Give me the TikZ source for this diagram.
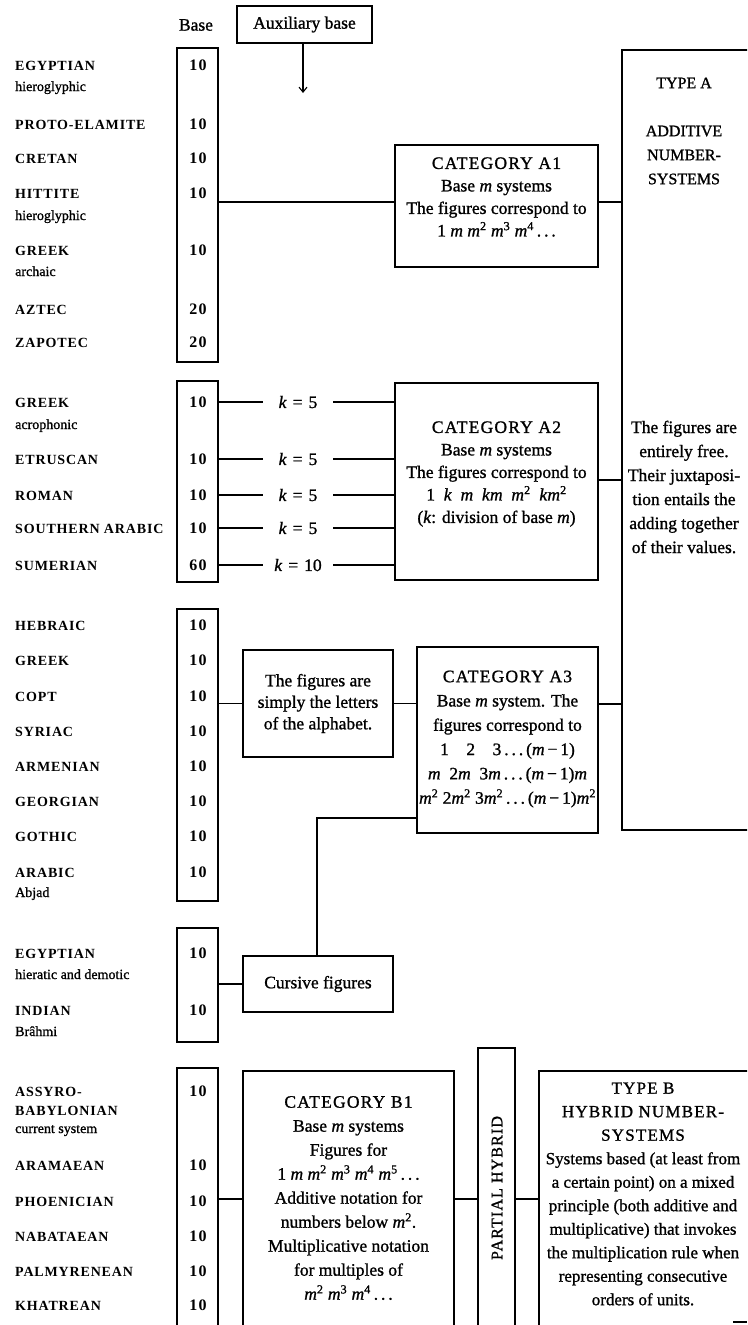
\documentclass[tikz,border=0pt]{standalone}
\usepackage{fontspec}
\setmainfont[FakeBold=1.1]{Liberation Serif}
\newfontfamily\namefont[LetterSpace=6]{Liberation Serif}
\newfontfamily\capfont[LetterSpace=7,FakeBold=1.1]{Liberation Serif}
\newfontfamily\numfont[LetterSpace=8]{Liberation Serif}
\usetikzlibrary{arrows.meta}
\newcommand\mm{\textit{m}}
\newcommand\kk{\textit{k}}
\newcommand\sq[1]{\textsuperscript{#1}}
\begin{document}
\begin{tikzpicture}[x=1pt,y=-1pt,
  conn/.style={line width=1.1pt},
  frame/.style={draw, line width=1.1pt, inner sep=0pt},
  bx/.style={draw, line width=1.1pt, align=center, inner sep=0pt, font=\fontsize{17.5}{22}\selectfont},
  bbox/.style={draw, line width=1.1pt, inner sep=0pt, minimum width=41pt},
  nm/.style={anchor=base west, inner sep=0pt, font=\namefont\bfseries\fontsize{14}{16}\selectfont},
  sub/.style={anchor=base west, inner sep=0pt, font=\fontsize{14}{16}\selectfont},
  num/.style={anchor=base, inner sep=0pt, font=\numfont\bfseries\fontsize{16}{16}\selectfont},
  txt/.style={align=center, inner sep=0pt, font=\fontsize{17.5}{22.5}\selectfont},
  klab/.style={inner sep=0pt, minimum width=70pt, minimum height=14pt, font=\fontsize{17.5}{20}\selectfont},
]
\useasboundingbox (0,0) rectangle (747,1325);
\clip (0,0) rectangle (747,1325);

% header
\node[inner sep=0pt, font=\fontsize{17.5}{20}\selectfont] (basehd) at (196,25) {Base};
\node[bx, minimum width=135pt, minimum height=37pt] (aux) at (304.5,24.5) {Auxiliary base};
\coordinate (tip) at (303,93);
\draw[conn,-{Straight Barb[length=5pt,width=8pt]}] (aux.south -| tip) -- (tip);

% base boxes
\node[bbox, minimum height=314pt] (g1) at (197.5,205) {};
\node[bbox, minimum height=201pt] (g2) at (197.5,481.5) {};
\node[bbox, minimum height=292pt] (g3) at (197.5,755) {};
\node[bbox, minimum height=114pt] (g4) at (197.5,985) {};
\node[bbox, minimum height=300pt] (g5) at (197.5,1218) {};

% names
\foreach \y/\t in {65/EGYPTIAN,124/PROTO-ELAMITE,158/CRETAN,193/HITTITE,250/GREEK,309/AZTEC,342/ZAPOTEC,
  402/GREEK,459/ETRUSCAN,495/ROMAN,528/SOUTHERN ARABIC,565/SUMERIAN,
  625/HEBRAIC,660/GREEK,696/COPT,731/SYRIAC,766/ARMENIAN,801/GEORGIAN,836/GOTHIC,872/ARABIC,
  953/EGYPTIAN,1010/INDIAN,
  1091/ASSYRO-,1110/BABYLONIAN,1165/ARAMAEAN,1201/PHOENICIAN,1236/NABATAEAN,1271/PALMYRENEAN,1305/KHATREAN}
  \node[nm] (n\y) at (15,\y+5) {\t};
\foreach \y/\t in {87/hieroglyphic,216/hieroglyphic,272/archaic,425/acrophonic,893/Abjad,975/hieratic and demotic,1032/Brâhmi,1129/current system}
  \node[sub] (s\y) at (15,\y+4) {\t};
\foreach \y/\v in {65/10,124/10,158/10,193/10,250/10,309/20,342/20,
  402/10,459/10,495/10,528/10,565/60,
  625/10,660/10,696/10,731/10,766/10,801/10,836/10,872/10,
  953/10,1010/10,
  1091/10,1165/10,1201/10,1236/10,1271/10,1305/10}
  \node[num] (v\y) at (198,\y+5.5) {\v};

% category boxes
\node[frame, minimum width=203pt, minimum height=122pt] (A1) at (496.5,206) {};
\node[txt] (A1t) at (496.5,197)
  {{\capfont CATEGORY A1}\\Base \mm{} systems\\The figures correspond to\\1 \mm{} \mm\sq2 \mm\sq3 \mm\sq4\,.\,.\,.};
\node[frame, minimum width=203pt, minimum height=197pt] (A2) at (496.5,481.5) {};
\node[txt] (A2t) at (496.5,474)
  {{\capfont CATEGORY A2}\\Base \mm{} systems\\The figures correspond to\\1\ \ \kk\ \ \mm\ \ \kk\mm\ \ \mm\sq2\ \ \kk\mm\sq2\\(\kk: division of base \mm)};
\node[frame, minimum width=181pt, minimum height=186pt] (A3) at (507.5,740) {};
\node[txt, font=\fontsize{17.5}{24.3}\selectfont] (A3t) at (507.5,739)
  {{\capfont CATEGORY A3}\\Base \mm{} system. The\\figures correspond to\\1\quad 2\quad 3\,.\,.\,.\,(\mm\,−\,1)\\\mm\ \ 2\mm\ \ 3\mm\,.\,.\,.\,(\mm\,−\,1)\mm\\\mm\sq2 2\mm\sq2 3\mm\sq2\,.\,.\,.\,(\mm\,−\,1)\mm\sq2};
\node[bx, minimum width=150pt, minimum height=107pt, font=\fontsize{17.5}{21.5}\selectfont] (L) at (318,703.5)
  {The figures are\\simply the letters\\of the alphabet.};
\node[bx, minimum width=150pt, minimum height=56pt] (C) at (318,984) {Cursive figures};

% type A
\node[frame, minimum width=140pt, minimum height=780pt] (TA) at (692,440) {};
\node[txt, font=\fontsize{16}{24}\selectfont] (TAhd) at (684,131) {TYPE A\\[24pt]ADDITIVE\\NUMBER-\\SYSTEMS};
\node[txt, font=\fontsize{17.5}{24}\selectfont] (TAbody) at (684,487)
  {The figures are\\entirely free.\\Their juxtaposi-\\tion entails the\\adding together\\of their values.};

% bottom part
\node[frame, minimum width=211pt, minimum height=290pt] (B1) at (348.5,1216) {};
\node[txt, font=\fontsize{17.5}{24}\selectfont] (B1t) at (348.5,1198)
  {{\capfont CATEGORY B1}\\Base \mm{} systems\\Figures for\\1 \mm{} \mm\sq2 \mm\sq3 \mm\sq4 \mm\sq5\,.\,.\,.\\Additive notation for\\numbers below \mm\sq2.\\Multiplicative notation\\for multiples of\\\mm\sq2 \mm\sq3 \mm\sq4\,.\,.\,.};
\node[frame, minimum width=37pt, minimum height=310pt] (PH) at (496.5,1203) {};
\node[rotate=90, inner sep=0pt, font=\capfont\fontsize{16}{18}\selectfont] (PHt) at (497,1188) {PARTIAL HYBRID};
\node[frame, minimum width=222pt, minimum height=290pt] (TB) at (650,1216) {};
\node[txt, font=\fontsize{17}{23.5}\selectfont] (TBt) at (643,1194)
  {{\capfont TYPE B}\\{\capfont HYBRID NUMBER-}\\{\capfont SYSTEMS}\\Systems based (at least from\\a certain point) on a mixed\\principle (both additive and\\multiplicative) that invokes\\the multiplication rule when\\representing consecutive\\orders of units.};
\coordinate (d1) at (733,1322);
\coordinate (d2) at (747,1322);
\draw[conn] (d1) -- (d2);

% connectors
\coordinate (r1) at (0,202);
\coordinate (r2) at (0,480);
\coordinate (r3) at (0,704);
\coordinate (r4) at (0,1199);
\coordinate (bend) at (317,818);
\draw[conn] (g1.east |- r1) -- (A1.west |- r1);
\draw[conn] (A1.east |- r1) -- (TA.west |- r1);
\foreach \y/\v in {402/5,459/5,495/5,528/5,565/10} {
  \node[klab] (k\y) at (298,\y) {\kk\hspace{6pt}=\hspace{6pt}\v};
  \draw[conn] (g2.east |- k\y) -- (k\y.west);
  \draw[conn] (k\y.east) -- (A2.west |- k\y);
}
\draw[conn] (A2.east |- r2) -- (TA.west |- r2);
\draw[conn] (g3.east |- L.west) -- (L.west);
\draw[conn] (L.east) -- (A3.west |- L.east);
\draw[conn] (A3.east |- r3) -- (TA.west |- r3);
\draw[conn] (A3.west |- bend) -- (bend) -- (C.north -| bend);
\draw[conn] (g4.east |- C.west) -- (C.west);
\draw[conn] (g5.east |- r4) -- (B1.west |- r4);
\draw[conn] (B1.east |- r4) -- (PH.west |- r4);
\draw[conn] (PH.east |- r4) -- (TB.west |- r4);
\end{tikzpicture}
\end{document}
